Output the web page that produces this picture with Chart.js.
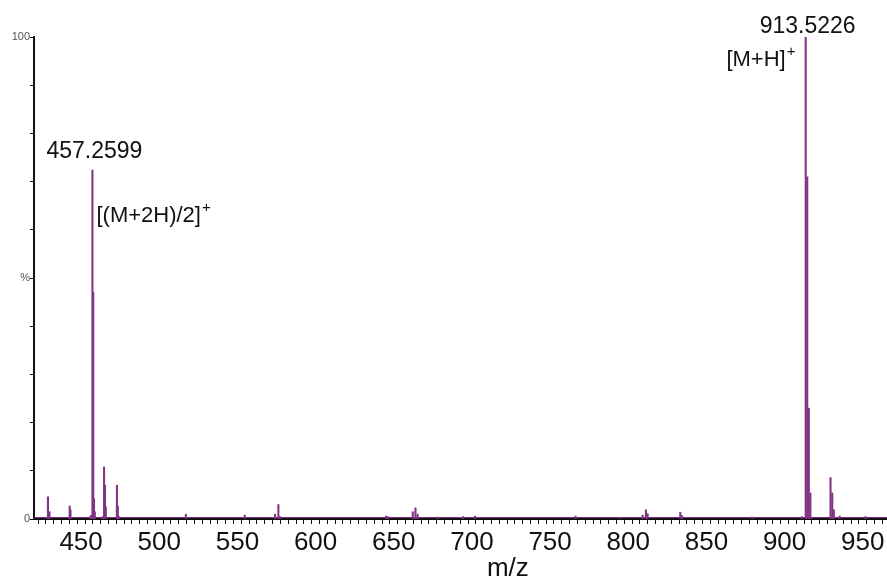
<!DOCTYPE html>
<html>
<head>
<meta charset="utf-8">
<script src="https://cdn.jsdelivr.net/npm/chart.js@4.4.1/dist/chart.umd.min.js"></script>
<style>
  html, body { margin: 0; padding: 0; background: #fff; }
  #wrap { width: 887px; height: 579px; position: relative; }
</style>
</head>
<body>
<div id="wrap"><canvas id="spectrum"></canvas></div>
<script>
// m/z of each centroid line
const mzValues = [
    428.8, 429.8, 442.7, 443.2, 456.0, 456.6, 457.26, 457.76, 458.26, 458.76,
    463.8, 464.7, 465.3, 465.8, 472.9, 473.5, 474.0, 517.0, 554.7, 574.1,
    576.2, 577.2, 645.1, 646.4, 662.2, 663.9, 665.3, 678.0, 694.3, 702.0,
    766.3, 795.0, 809.2, 811.3, 812.4, 833.3, 834.4, 879.3, 911.0, 913.52,
    914.52, 915.52, 916.52, 929.4, 930.5, 931.5, 935.3, 951.8
];
// relative intensity (%)
const intensities = [
    4.6, 1.5, 2.7, 1.9, 0.6, 0.8, 72.4, 47.0, 4.2, 1.5,
    0.5, 10.8, 7.0, 2.5, 7.0, 2.7, 0.6, 1.0, 0.8, 1.0,
    3.0, 0.5, 0.6, 0.5, 1.5, 2.3, 1.0, 0.4, 0.5, 0.6,
    0.6, 0.3, 0.8, 1.9, 1.1, 1.4, 0.7, 0.4, 0.5, 100,
    71.0, 23.0, 5.4, 8.6, 5.4, 1.9, 0.6, 0.5
];
// peak annotations
const peakLabels = [
    { mz: 457.26, value: '457.2599', ion: '[(M+2H)/2]' },
    { mz: 913.52, value: '913.5226', ion: '[M+H]' }
];
const axisTitle = 'm/z';

const purple = 'rgb(130, 50, 130)';
const fontFamily = '"Liberation Sans", Arial, sans-serif';

const annotatePeaks = {
    id: 'annotatePeaks',
    beforeDatasetsDraw(chart) {
        // purple baseline of the spectrum sitting on the axis
        const { ctx, chartArea, scales } = chart;
        const y0 = scales.y.getPixelForValue(0) - 1.5;
        ctx.save();
        ctx.strokeStyle = purple;
        ctx.lineWidth = 1;
        ctx.beginPath();
        ctx.moveTo(chartArea.left, y0);
        ctx.lineTo(chartArea.right, y0);
        ctx.stroke();
        ctx.restore();
    },
    afterDatasetsDraw(chart) {
        const { ctx, scales } = chart;
        ctx.save();
        ctx.fillStyle = '#111';
        ctx.textBaseline = 'alphabetic';

        // 457 peak
        let x = scales.x.getPixelForValue(peakLabels[0].mz);
        ctx.font = '23px ' + fontFamily;
        ctx.textAlign = 'left';
        ctx.fillText(peakLabels[0].value, x - 46, 158);
        ctx.font = '22px ' + fontFamily;
        ctx.fillText(peakLabels[0].ion, x + 4, 222);
        let w = ctx.measureText(peakLabels[0].ion).width;
        ctx.font = '15px ' + fontFamily;
        ctx.fillText('+', x + 5 + w, 212);

        // 913 peak
        x = scales.x.getPixelForValue(peakLabels[1].mz);
        ctx.font = '23px ' + fontFamily;
        ctx.fillText(peakLabels[1].value, x - 46, 33);
        ctx.font = '22px ' + fontFamily;
        ctx.textAlign = 'right';
        ctx.fillText(peakLabels[1].ion, x - 20, 66);
        ctx.font = '15px ' + fontFamily;
        ctx.textAlign = 'left';
        ctx.fillText('+', x - 19, 56);

        // axis title, placed right of centre like the original
        ctx.font = '26px ' + fontFamily;
        ctx.textAlign = 'center';
        ctx.fillText(axisTitle, scales.x.getPixelForValue(723), 576);
        ctx.restore();
    }
};

new Chart(document.getElementById('spectrum'), {
    type: 'bar',
    data: {
        datasets: [{
            data: mzValues.map((m, i) => ({ x: m, y: intensities[i] })),
            backgroundColor: purple,
            borderWidth: 0,
            barThickness: 1.4
        }]
    },
    options: {
        responsive: true,
        maintainAspectRatio: false,
        animation: false,
        layout: { padding: { top: 37, left: 0, right: 0, bottom: 0 } },
        plugins: {
            legend: { display: false },
            tooltip: { enabled: false }
        },
        scales: {
            x: {
                type: 'linear',
                min: 422.4,
                max: 963,
                afterFit: s => { s.height = 60; },
                border: { display: true, color: '#111', width: 2 },
                grid: { display: true, drawOnChartArea: false, drawTicks: true, tickLength: 5, color: '#111' },
                ticks: {
                    stepSize: 5,
                    includeBounds: false,
                    autoSkip: false,
                    maxRotation: 0,
                    padding: 3,
                    color: '#111',
                    font: { family: fontFamily, size: 26 },
                    callback: v => (Math.abs(v % 50) < 1e-6 ? String(Math.round(v)) : '')
                }
            },
            y: {
                min: 0,
                max: 100,
                afterFit: s => { s.width = 34; },
                border: { display: true, color: '#111', width: 2 },
                grid: { display: true, drawOnChartArea: false, drawTicks: true, tickLength: 4, color: '#111' },
                ticks: {
                    stepSize: 10,
                    autoSkip: false,
                    padding: 0,
                    color: '#555',
                    font: { family: fontFamily, size: 11 },
                    callback: v => (v === 0 ? '0' : v === 100 ? '100' : v === 50 ? '%' : '')
                }
            }
        }
    },
    plugins: [annotatePeaks]
});
</script>
</body>
</html>
